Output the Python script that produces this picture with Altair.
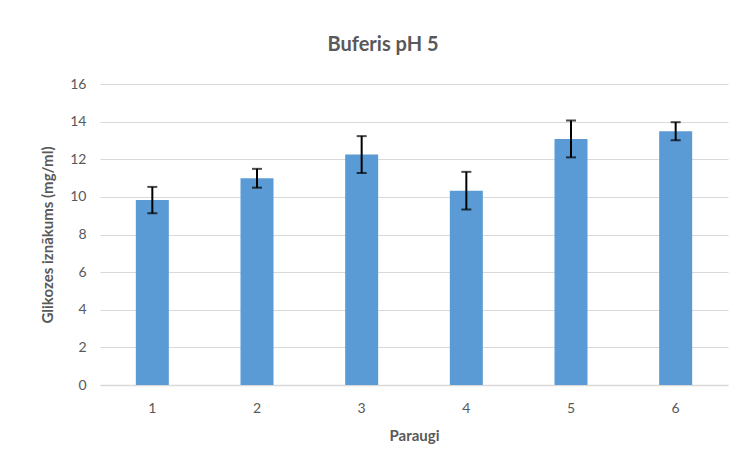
import altair as alt
import pandas as pd

samples = ["1", "2", "3", "4", "5", "6"]
means = [9.83, 10.99, 12.25, 10.33, 13.08, 13.49]
errors = [0.70, 0.50, 0.98, 1.00, 0.98, 0.48]

df = pd.DataFrame({
    "Paraugi": samples,
    "mean": means,
    "lo": [m - e for m, e in zip(means, errors)],
    "hi": [m + e for m, e in zip(means, errors)],
})

FONT = "Lato"
GREY = "#595959"

x_axis = alt.Axis(title="Paraugi", labelAngle=0, labelPadding=16,
                  titlePadding=13, ticks=False, domainColor="#d9d9d9",
                  domainWidth=1.5, labelFont=FONT, titleFont=FONT,
                  labelColor=GREY, titleColor=GREY, labelFontSize=14,
                  titleFontSize=15, titleFontWeight="bold")

y_axis = alt.Axis(title="Glikozes iznākums (mg/ml)", values=list(range(0, 17, 2)),
                  ticks=False, domain=False, gridColor="#d9d9d9", gridWidth=1.2,
                  labelPadding=14, titlePadding=14, labelFont=FONT, titleFont=FONT,
                  labelColor=GREY, titleColor=GREY, labelFontSize=14,
                  titleFontSize=15, titleFontWeight="bold")

x_scale = alt.Scale(paddingInner=0, paddingOuter=0)
y_scale = alt.Scale(domain=[0, 16])

def X():
    return alt.X("Paraugi:N", sort=samples, scale=x_scale, axis=x_axis)

bars = alt.Chart(df).mark_bar(size=33, color="#5B9BD5").encode(
    x=X(),
    y=alt.Y("mean:Q", scale=y_scale, axis=y_axis),
)

rules = alt.Chart(df).mark_rule(color="black", strokeWidth=2).encode(
    x=X(),
    y=alt.Y("lo:Q", scale=y_scale, axis=y_axis),
    y2="hi:Q",
)

caps_hi = alt.Chart(df).mark_tick(color="black", thickness=2, size=10, orient="horizontal").encode(
    x=X(),
    y=alt.Y("hi:Q", scale=y_scale, axis=y_axis),
)
caps_lo = alt.Chart(df).mark_tick(color="black", thickness=2, size=10, orient="horizontal").encode(
    x=X(),
    y=alt.Y("lo:Q", scale=y_scale, axis=y_axis),
)

chart = alt.layer(bars, rules, caps_hi, caps_lo).properties(
    width=628,
    height=301,
    title=alt.TitleParams("Buferis pH 5", fontSize=20, fontWeight="bold", color=GREY,
                          font=FONT, offset=22, dx=-31, anchor="middle"),
    padding={"left": 92, "top": 76, "right": 2, "bottom": 73},
    autosize="none",
    background="white",
).configure_view(stroke=None)

chart.save("out.html", embed_options={"renderer": "svg", "actions": False})
